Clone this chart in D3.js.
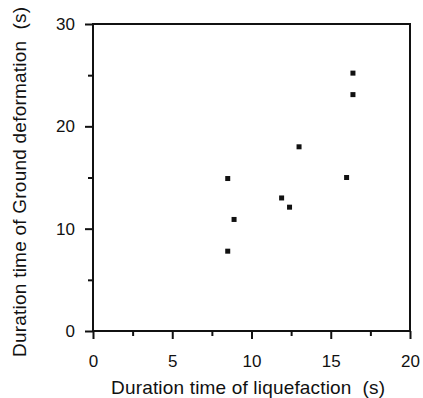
<!DOCTYPE html>
<html lang="en">
<head>
<meta charset="utf-8">
<title>Duration times</title>
<script src="https://d3js.org/d3.v7.min.js"></script>
<style>
  body { margin: 0; background: #fff; }
  text { font-family: "Liberation Sans", Arial, sans-serif; fill: #111; white-space: pre; }
</style>
</head>
<body>
<script>
// liquefaction duration (s) vs ground deformation duration (s)
var liquefaction = [8.5, 8.9, 11.9, 12.4, 13.0, 16.0, 16.4, 16.4, 8.5];
var deformation  = [14.9, 10.9, 13.0, 12.1, 18.0, 15.0, 25.2, 23.1, 7.8];
var xTicks = [0, 5, 10, 15, 20];
var yTicks = [0, 10, 20, 30];
var xMinor = [2.5, 7.5, 12.5, 17.5];
var yMinor = [5, 15, 25];

var W = 423, H = 398;
var margin = {top: 24, right: 13, bottom: 67, left: 93};
var width = W - margin.left - margin.right;
var height = H - margin.top - margin.bottom;

var svg = d3.select("body").append("svg")
    .attr("width", W)
    .attr("height", H);

var g = svg.append("g")
    .attr("transform", "translate(" + margin.left + "," + margin.top + ")");

var x = d3.scaleLinear().domain([0, 20]).range([0, width]);
var y = d3.scaleLinear().domain([0, 30]).range([height, 0]);

//frame
g.append("rect")
    .attr("width", width)
    .attr("height", height)
    .attr("fill", "none")
    .attr("stroke", "#111")
    .attr("stroke-width", 2);

//minor ticks
g.append("g")
    .attr("transform", "translate(0," + height + ")")
    .call(d3.axisBottom(x).tickValues(xMinor).tickSize(5).tickFormat(""))
    .call(function (a) { a.select(".domain").remove(); });
g.append("g")
    .call(d3.axisLeft(y).tickValues(yMinor).tickSize(5).tickFormat(""))
    .call(function (a) { a.select(".domain").remove(); });

//x axis
var xa = g.append("g")
    .attr("transform", "translate(0," + height + ")")
    .call(d3.axisBottom(x).tickValues(xTicks).tickSize(8).tickPadding(16));
xa.select(".domain").remove();
xa.selectAll("text").style("font-size", "17px");

//y axis
var ya = g.append("g")
    .call(d3.axisLeft(y).tickValues(yTicks).tickSize(8).tickPadding(10));
ya.select(".domain").remove();
ya.selectAll("text").style("font-size", "17px");

g.selectAll(".tick line").attr("stroke", "#111").attr("stroke-width", 2);

//points
g.selectAll(".pt")
    .data(liquefaction)
    .enter()
    .append("rect")
    .attr("class", "pt")
    .attr("x", function (d) { return x(d) - 2.5; })
    .attr("y", function (d, i) { return y(deformation[i]) - 2.5; })
    .attr("width", 5)
    .attr("height", 5)
    .attr("fill", "#111");

//x title
g.append("text")
    .attr("x", 111 - margin.left)
    .attr("y", height + 63)
    .attr("textLength", 274)
    .attr("lengthAdjust", "spacing")
    .style("font-size", "19px")
    .text("Duration time of liquefaction  (s)");

//y title
g.append("text")
    .attr("transform", "rotate(-90)")
    .attr("x", -(357 - margin.top))
    .attr("y", 26 - margin.left)
    .attr("textLength", 350)
    .attr("lengthAdjust", "spacing")
    .style("font-size", "19px")
    .text("Duration time of Ground deformation  (s)");
</script>
</body>
</html>
